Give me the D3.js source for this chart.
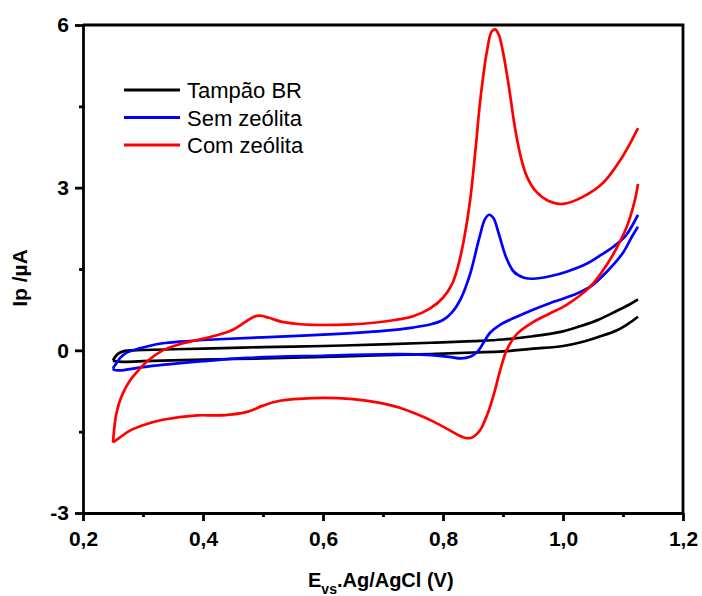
<!DOCTYPE html>
<html lang="pt">
<head>
<meta charset="utf-8">
<title>Voltametria cíclica</title>
<script src="https://d3js.org/d3.v7.min.js"></script>
<style>
  body { margin: 0; background: #fff; }
  text { font-family: Arial, "Liberation Sans", sans-serif; }
</style>
</head>
<body>
<svg width="702" height="596"></svg>
<script>

// series names and colours
var seriesNames = ["Tampão BR", "Sem zeólita", "Com zeólita"];
var seriesColors = ["#000000", "#0000ff", "#ff0000"];

// tick values
var xMajor = [0.2, 0.4, 0.6, 0.8, 1.0, 1.2];
var xMinor = [0.3, 0.5, 0.7, 0.9, 1.1];
var yMajor = [-3, 0, 3, 6];
var yMinor = [-1.5, 1.5, 4.5];

// [E (V), Ip (µA)] — forward (anodic) and reverse (cathodic) scans
var tampaoFwd = [
  [0.25,-0.19],[0.255,-0.1],[0.262,-0.04],[0.27,-0.01],[0.285,0.0],[0.35,0.02],[0.4,0.03],
  [0.5,0.06],[0.6,0.08],[0.7,0.11],[0.78,0.14],[0.85,0.17],[0.9,0.2],[0.95,0.26],[1.0,0.35],
  [1.03,0.45],[1.06,0.57],[1.09,0.73],[1.11,0.84],[1.125,0.94]
];
var tampaoRev = [
  [1.125,0.62],[1.11,0.5],[1.09,0.37],[1.06,0.25],[1.03,0.15],[1.0,0.08],[0.95,0.03],
  [0.9,-0.02],[0.85,-0.04],[0.78,-0.07],[0.7,-0.09],[0.6,-0.12],[0.5,-0.15],[0.4,-0.17],
  [0.3,-0.2],[0.26,-0.21],[0.25,-0.19]
];

var semFwd = [
  [0.25,-0.33],[0.255,-0.25],[0.262,-0.14],[0.27,-0.06],[0.283,0.0],[0.31,0.08],[0.333,0.13],
  [0.36,0.16],[0.417,0.2],[0.5,0.24],[0.6,0.29],[0.7,0.36],[0.75,0.42],[0.78,0.48],[0.8,0.56],
  [0.815,0.7],[0.83,0.96],[0.845,1.4],[0.86,2.05],[0.87,2.42],[0.877,2.5],[0.884,2.44],
  [0.893,2.15],[0.905,1.72],[0.918,1.45],[0.935,1.34],[0.95,1.32],[0.98,1.37],[1.006,1.45],
  [1.04,1.6],[1.062,1.75],[1.085,1.92],[1.105,2.12],[1.125,2.5]
];
var semRev = [
  [1.125,2.28],[1.115,2.1],[1.1,1.8],[1.073,1.45],[1.045,1.17],[1.017,1.02],[0.978,0.87],
  [0.95,0.75],[0.923,0.62],[0.895,0.47],[0.878,0.32],[0.868,0.15],[0.858,-0.02],[0.845,-0.12],
  [0.83,-0.15],[0.81,-0.12],[0.78,-0.09],[0.728,-0.07],[0.6,-0.1],[0.473,-0.14],[0.4,-0.2],
  [0.307,-0.3],[0.275,-0.35],[0.262,-0.37],[0.252,-0.36],[0.25,-0.33]
];

var comFwd = [
  [0.25,-1.7],[0.252,-1.45],[0.255,-1.2],[0.26,-0.98],[0.267,-0.78],[0.278,-0.56],
  [0.293,-0.36],[0.307,-0.2],[0.333,0.0],[0.36,0.11],[0.39,0.19],[0.41,0.24],[0.43,0.3],
  [0.45,0.38],[0.47,0.52],[0.485,0.62],[0.495,0.64],[0.51,0.6],[0.53,0.53],[0.555,0.49],
  [0.583,0.47],[0.62,0.47],[0.667,0.49],[0.72,0.56],[0.75,0.63],[0.778,0.77],[0.8,0.97],
  [0.815,1.22],[0.825,1.55],[0.835,2.05],[0.845,2.75],[0.855,3.8],[0.862,4.6],[0.873,5.5],
  [0.881,5.88],[0.887,5.92],[0.893,5.82],[0.9,5.5],[0.91,4.85],[0.92,4.1],[0.93,3.55],
  [0.94,3.2],[0.955,2.93],[0.975,2.76],[1.0,2.7],[1.033,2.83],[1.067,3.09],[1.095,3.5],
  [1.11,3.78],[1.125,4.1]
];
var comRev = [
  [1.125,3.07],[1.12,2.78],[1.107,2.3],[1.09,1.9],[1.073,1.58],[1.045,1.17],[1.006,0.84],
  [0.978,0.68],[0.95,0.52],[0.923,0.3],[0.906,0.0],[0.895,-0.38],[0.885,-0.8],[0.875,-1.15],
  [0.862,-1.47],[0.85,-1.6],[0.84,-1.62],[0.825,-1.56],[0.812,-1.48],[0.785,-1.32],
  [0.757,-1.18],[0.728,-1.06],[0.695,-0.97],[0.65,-0.9],[0.583,-0.88],[0.528,-0.93],
  [0.5,-1.02],[0.475,-1.13],[0.45,-1.18],[0.42,-1.2],[0.39,-1.2],[0.333,-1.28],[0.3,-1.38],
  [0.278,-1.48],[0.26,-1.62],[0.25,-1.7]
];

var curves = [
  {pts: tampaoFwd, s: 0}, {pts: tampaoRev, s: 0},
  {pts: semFwd, s: 1}, {pts: semRev, s: 1},
  {pts: comFwd, s: 2}, {pts: comRev, s: 2}
];

var svg = d3.select("svg"),
    margin = {top: 25, right: 19, bottom: 83, left: 83},
    w = +svg.attr("width") - margin.left - margin.right,
    h = +svg.attr("height") - margin.top - margin.bottom;

var xScale = d3.scaleLinear().domain([0.2, 1.2]).range([0, w]),
    yScale = d3.scaleLinear().domain([-3, 6]).range([h, 0]);

var g = svg.append("g")
    .attr("transform", "translate(" + margin.left + "," + margin.top + ")");

// curves
var line = d3.line()
    .x(function(d) { return xScale(d[0]); })
    .y(function(d) { return yScale(d[1]); })
    .curve(d3.curveCatmullRom.alpha(0.5));

g.selectAll(".cv")
  .data(curves)
  .enter().append("path")
    .attr("class", "cv")
    .attr("d", function(d) { return line(d.pts); })
    .attr("fill", "none")
    .attr("stroke", function(d) { return seriesColors[d.s]; })
    .attr("stroke-width", 2.7)
    .attr("stroke-linejoin", "round");

// frame (top and right)
g.append("path")
    .attr("d", "M0,0H" + w + "V" + h)
    .attr("fill", "none")
    .attr("stroke", "#000")
    .attr("stroke-width", 2.8);

// x axis
var xAxis = g.append("g")
    .attr("transform", "translate(0," + h + ")")
    .call(d3.axisBottom(xScale).tickValues(xMajor).tickSize(8).tickSizeOuter(0)
      .tickFormat(function(d) { return d3.format(".1f")(d).replace(".", ","); }));
g.append("g")
    .attr("transform", "translate(0," + h + ")")
    .call(d3.axisBottom(xScale).tickValues(xMinor).tickSize(4).tickFormat(""))
    .select(".domain").remove();

// y axis
var yAxis = g.append("g")
    .call(d3.axisLeft(yScale).tickValues(yMajor).tickSize(8).tickSizeOuter(0)
      .tickFormat(function(d) { return String(d); }));
g.append("g")
    .call(d3.axisLeft(yScale).tickValues(yMinor).tickSize(4).tickFormat(""))
    .select(".domain").remove();

g.selectAll(".domain").attr("stroke-width", 2.8);
g.selectAll(".tick line").attr("stroke-width", 2.8);
g.selectAll(".tick text")
    .attr("font-family", "Arial, 'Liberation Sans', sans-serif")
    .attr("font-weight", "bold")
    .style("font-size", "21px");
xAxis.selectAll(".tick text").attr("dy", "1.05em");
yAxis.selectAll(".tick text").attr("x", -14);

// axis titles
var xt = svg.append("text")
    .attr("x", 308)
    .attr("y", 587)
    .attr("font-weight", "bold")
    .style("font-size", "20px");
xt.append("tspan").text("E");
xt.append("tspan").attr("dy", 7).style("font-size", "14px").text("vs");
xt.append("tspan").attr("dy", -7).text(".Ag/AgCl (V)");

svg.append("text")
    .attr("transform", "translate(27,278) rotate(-90)")
    .attr("text-anchor", "middle")
    .attr("font-weight", "bold")
    .style("font-size", "21px")
    .text("Ip /µA");

// legend
var legend = svg.append("g").selectAll("g")
    .data(seriesNames)
  .enter().append("g")
    .attr("transform", function(d, i) { return "translate(124," + (90 + i * 27.5) + ")"; });

legend.append("line")
    .attr("x1", 0).attr("x2", 56)
    .attr("stroke", function(d, i) { return seriesColors[i]; })
    .attr("stroke-width", 3);

legend.append("text")
    .attr("x", 63)
    .attr("y", 8)
    .style("font-size", "22px")
    .text(function(d) { return d; });

</script>
</body>
</html>
